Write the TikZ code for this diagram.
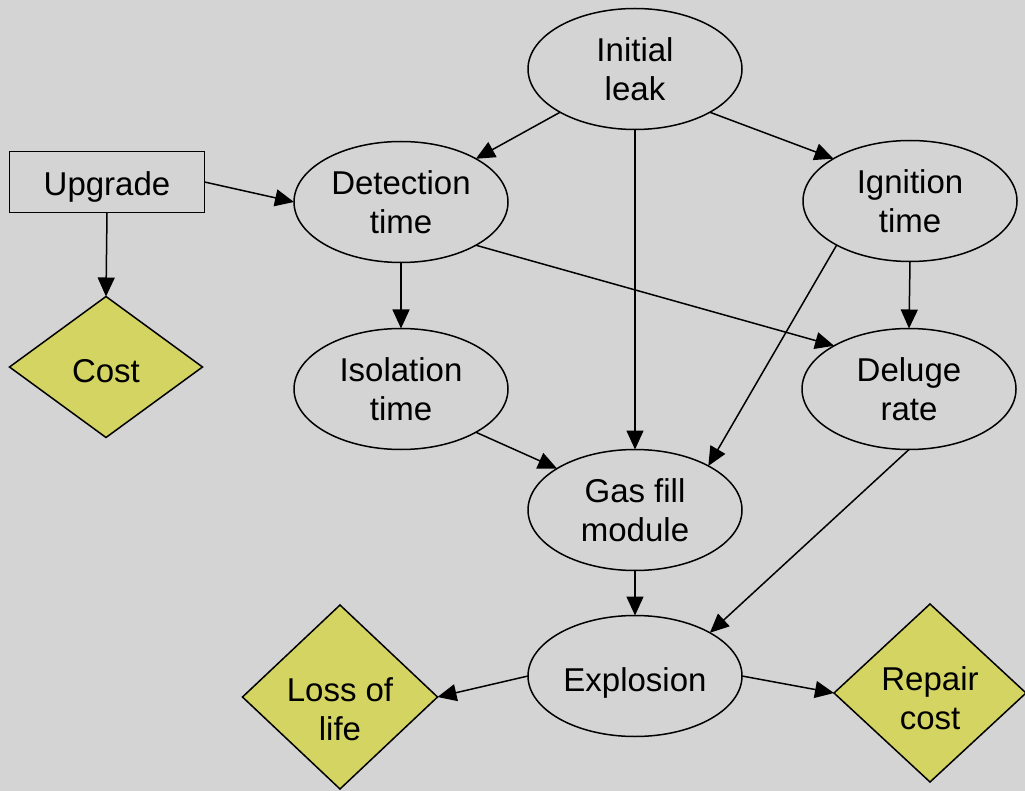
\documentclass[tikz,border=0pt]{standalone}
\usepackage{fontspec}
\setmainfont{Liberation Sans}
\usetikzlibrary{shapes.geometric,arrows.meta}
\definecolor{paper}{RGB}{212,212,212}
\definecolor{valuefill}{RGB}{212,212,98}
\begin{document}
\begin{tikzpicture}[x=1pt,y=-1pt,
  every node/.style={font=\fontsize{33}{39}\selectfont, align=center, inner sep=0pt, outer sep=0pt},
  chance/.style={ellipse, draw, line width=1.5pt, minimum width=214pt, minimum height=121pt},
  valuenode/.style={diamond, draw, line width=1.5pt, fill=valuefill},
  decision/.style={rectangle, draw, line width=1.5pt, minimum width=195pt, minimum height=61pt},
  lowered/.style={text height=#1, text depth=0pt},
  link/.style={line width=1.5pt, -{Triangle[length=19pt,width=17pt]}}]
\useasboundingbox (0,0) rectangle (1025,791);
\fill[paper] (0,0) rectangle (1025,791);

% chance nodes
\node[chance] (leak) at (635,69)  {Initial\\leak};
\node[chance] (det)  at (401,202) {Detection\\time};
\node[chance] (ign)  at (910,201) {Ignition\\time};
\node[chance] (iso)  at (401,389) {Isolation\\time};
\node[chance] (del)  at (909,389) {Deluge\\rate};
\node[chance] (gas)  at (635,510) {Gas fill\\module};
\node[chance, lowered=30pt] (exp) at (635,676) {Explosion};

% decision node
\node[decision, lowered=28pt] (upg) at (107,182) {Upgrade};

% value nodes
\node[valuenode, lowered=30pt, minimum width=193pt, minimum height=141pt] (cost) at (106,367) {Cost};
\node[valuenode, minimum width=195pt, minimum height=184pt,
      label={[yshift=-12pt]center:{Loss of\\life}}] (loss) at (340,697) {};
\node[valuenode, minimum width=192pt, minimum height=178pt,
      label={[yshift=-5pt]center:{Repair\\cost}}] (rep) at (930,693) {};

% influences
\draw[link] (leak.210) -- (det.30);
\draw[link] (leak.south) -- (gas.north);
\draw[link] (leak.-30) -- (ign.151);
\draw[link] (upg.east) -- (det.west);
\draw[link] (upg.south) -- (cost.north);
\draw[link] (det.south) -- (iso.north);
\draw[link] (det.-30) -- (del.150);
\draw[link] (ign.211) -- (gas.31);
\draw[link] (ign.south) -- (del.north);
\draw[link] (iso.-30) -- (gas.152);
\draw[link] (del.south) -- (exp.30);
\draw[link] (gas.south) -- (exp.north);
\draw[link] (exp.west) -- (loss.east);
\draw[link] (exp.east) -- (rep.west);
\end{tikzpicture}
\end{document}
